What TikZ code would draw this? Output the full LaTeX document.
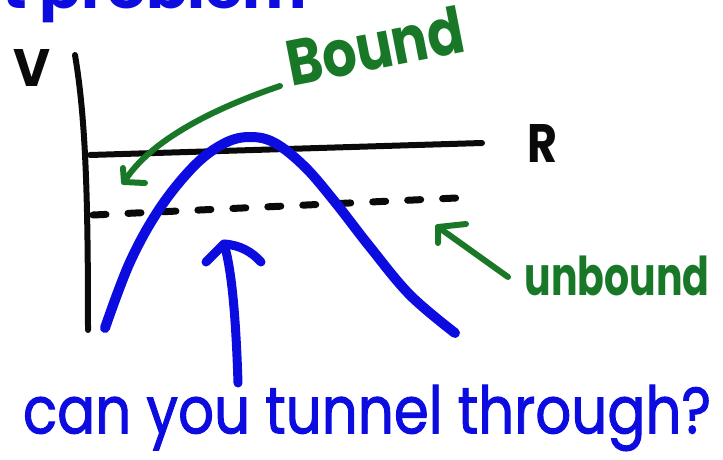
\documentclass[tikz,border=0pt]{standalone}
\usepackage{fontspec}
\setmainfont{Poppins}
\newfontfamily\qfont[FakeBold=1.6]{Poppins}
\definecolor{pen}{RGB}{10,10,10}
\definecolor{bpen}{RGB}{12,12,225}
\definecolor{gpen}{RGB}{25,120,40}
\tikzset{
  ink/.style={line cap=round, line join=round},
  axis/.style={ink, draw=pen, line width=6pt},
  bluecurve/.style={ink, draw=bpen, line width=10pt},
  bluearrow/.style={ink, draw=bpen, line width=9pt},
  greenarrow/.style={ink, draw=gpen, line width=6pt},
  hand/.style={inner sep=0pt, font=\bfseries},
}
\begin{document}
\begin{tikzpicture}[x=1pt,y=-1pt]
\useasboundingbox (0,0) rectangle (723,460);
% top clipped text
\node[hand, text=bpen, anchor=base west] (toptext) at (2,9) {\resizebox{305pt}{40pt}{t problem}};
% axes
\coordinate (vtop) at (75,55);
\coordinate (vbot) at (88,330);
\draw[axis] (vtop) .. controls (86,120) and (88,200) .. (vbot);
\coordinate (hl) at (90,155);
\coordinate (hr) at (482,143);
\draw[axis] (hl) -- (hr);
\node[hand, text=pen] (V) at (32,68) {\resizebox{37pt}{37pt}{V}};
\node[hand, text=pen] (R) at (542,143) {\resizebox{30pt}{38pt}{R}};
% dashed level
\coordinate (dl) at (93,215);
\coordinate (dr) at (456,198);
\draw[axis, line width=7pt, dash pattern=on 13pt off 22pt] (dl) -- (dr);
% blue barrier
\draw[bluecurve] plot[smooth, tension=0.6] coordinates {(105,328) (130,262) (160,208) (195,165) (225,143) (250,137) (275,143) (305,167) (335,202) (370,247) (410,295) (455,333)};
% blue arrow
\coordinate (btail) at (238,383);
\coordinate (btip) at (224,244);
\draw[bluearrow] (btail) .. controls (236,320) and (232,270) .. (btip);
\draw[bluearrow] (206,262) -- (btip) .. controls (240,245) and (252,252) .. (261,262);
% Bound label and arrow
\node[hand, text=gpen, rotate=11] (bound) at (375,46) {\resizebox*{180pt}{48pt}{Bound}};
\coordinate (gbtail) at (280,86);
\coordinate (gbtip) at (124,182);
\draw[greenarrow] (gbtail) .. controls (215,108) and (150,140) .. (gbtip);
\draw[greenarrow] (123,168) -- (gbtip) -- (145,183);
% unbound label and arrow
\node[hand, text=gpen] (unbound) at (617,276) {\resizebox*{185pt}{40pt}{unbound}};
\coordinate (ubtail) at (508,277);
\coordinate (ubtip) at (438,227);
\draw[greenarrow] (ubtail) -- (ubtip);
\draw[greenarrow] (438,243) -- (ubtip) -- (466,224);
% question
\node[inner sep=0pt, text=bpen, font=\qfont] (question) at (367,418) {\resizebox*{688pt}{66pt}{can you tunnel through?}};
\end{tikzpicture}
\end{document}
